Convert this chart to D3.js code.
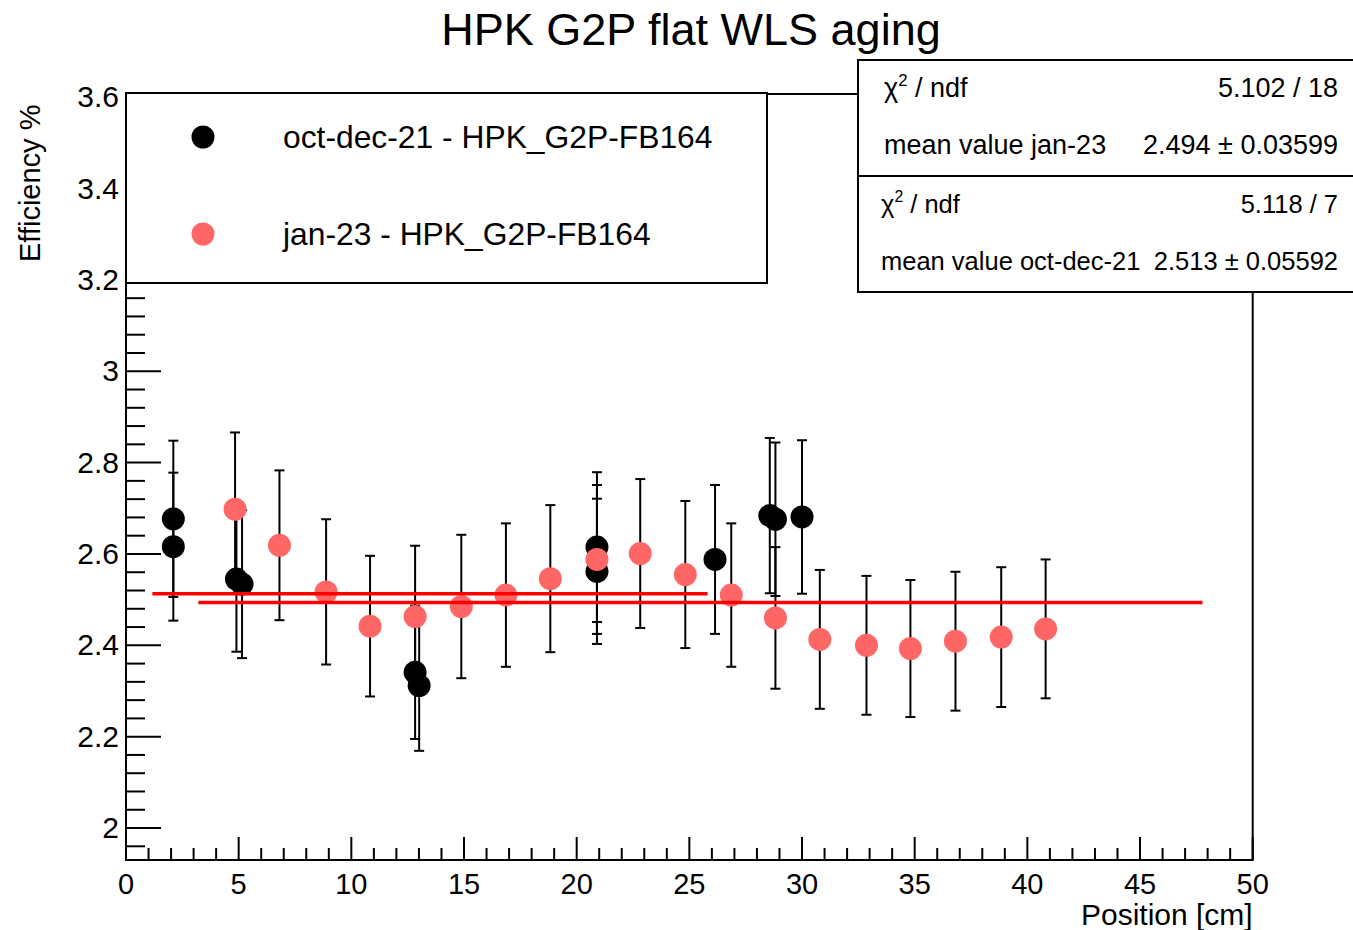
<!DOCTYPE html>
<html>
<head>
<meta charset="utf-8">
<script src="https://cdn.jsdelivr.net/npm/d3@7"></script>
<style>
  html, body { margin: 0; padding: 0; background: #fff; }
  svg { display: block; font-family: "Liberation Sans", Arial, Helvetica, sans-serif; }
</style>
</head>
<body>
<script>
// Efficiency vs position, two measurement campaigns with constant fits
const octX   = [2.10, 2.10, 4.90, 5.15, 12.83, 13.01, 20.90, 20.90, 26.14, 28.57, 28.82, 30.00];
const octY   = [2.677, 2.616, 2.545, 2.534, 2.341, 2.312, 2.615, 2.562, 2.588, 2.684, 2.676, 2.681];
const octErr = [0.171, 0.162, 0.159, 0.162, 0.146, 0.143, 0.164, 0.159, 0.163, 0.170, 0.168, 0.168];

const janX   = [4.84, 6.81, 8.88, 10.83, 12.83, 14.88, 16.86, 18.83, 20.90, 22.82, 24.82, 26.86, 28.82, 30.79, 32.86, 34.81, 36.81, 38.84, 40.81];
const janY   = [2.698, 2.619, 2.517, 2.442, 2.463, 2.485, 2.510, 2.546, 2.588, 2.601, 2.555, 2.510, 2.460, 2.413, 2.400, 2.393, 2.409, 2.418, 2.436];
const janErr = [0.168, 0.164, 0.159, 0.154, 0.155, 0.157, 0.157, 0.161, 0.163, 0.163, 0.161, 0.157, 0.155, 0.152, 0.152, 0.150, 0.152, 0.153, 0.152];

// constant fits: mean value and fit range
const octFit = { mean: 2.513, err: 0.05592, chi2: "5.118", ndf: 7, range: [1.17, 25.81] };
const janFit = { mean: 2.494, err: 0.03599, chi2: "5.102", ndf: 18, range: [3.21, 47.77] };

const xTicks = [0, 5, 10, 15, 20, 25, 30, 35, 40, 45, 50];
const yTicks = [2, 2.2, 2.4, 2.6, 2.8, 3, 3.2, 3.4, 3.6];

const legendLabels = ["oct-dec-21 - HPK_G2P-FB164", "jan-23 - HPK_G2P-FB164"];
const colors = { oct: "#000000", jan: "#ff6666", fit: "#ff0000" };

const W = 1353, H = 930;
const frame = { left: 126, right: 1252.7, top: 94, bottom: 860 };

const svg = d3.select("body").append("svg").attr("width", W).attr("height", H);
svg.append("rect").attr("width", W).attr("height", H).attr("fill", "#fff");

const x = d3.scaleLinear().domain([0, 50]).range([frame.left, frame.right]);
const y = d3.scaleLinear().domain([1.93, 3.607]).range([frame.bottom, frame.top]);

// frame
svg.append("rect")
  .attr("x", frame.left).attr("y", frame.top)
  .attr("width", frame.right - frame.left).attr("height", frame.bottom - frame.top)
  .attr("fill", "none").attr("stroke", "#000").attr("stroke-width", 2);

// x axis: major ticks every 5, minor every 1, drawn inward
const xAxis = svg.append("g").attr("stroke", "#000").attr("stroke-width", 2);
d3.range(0, 51, 1).forEach(v => {
  const major = v % 5 === 0;
  xAxis.append("line")
    .attr("x1", x(v)).attr("x2", x(v))
    .attr("y1", frame.bottom).attr("y2", frame.bottom - (major ? 23 : 12));
});
svg.append("g").selectAll("text").data(xTicks).join("text")
  .attr("x", d => x(d)).attr("y", 894)
  .attr("text-anchor", "middle").attr("font-size", 29)
  .text(d => d3.format("d")(d));

// y axis: major ticks every 0.2, minor every 0.04
const yAxis = svg.append("g").attr("stroke", "#000").attr("stroke-width", 2);
d3.range(0, 42).map(i => 1.96 + i * 0.04).filter(v => v <= 3.6001).forEach(v => {
  const major = Math.abs(Math.round(v * 5) - v * 5) < 1e-6;
  yAxis.append("line")
    .attr("x1", frame.left).attr("x2", frame.left + (major ? 35 : 19))
    .attr("y1", y(v)).attr("y2", y(v));
});
svg.append("g").selectAll("text").data(yTicks).join("text")
  .attr("x", 119).attr("y", d => y(d) + 10)
  .attr("text-anchor", "end").attr("font-size", 30)
  .text(d => d3.format("~g")(d));

// axis titles
svg.append("text").attr("x", frame.right).attr("y", 925)
  .attr("text-anchor", "end").attr("font-size", 30).text("Position [cm]");
svg.append("text")
  .attr("transform", `translate(40, 262) rotate(-90)`)
  .attr("text-anchor", "start").attr("font-size", 29).text("Efficiency %");

// title
svg.append("text").attr("x", 691).attr("y", 45)
  .attr("text-anchor", "middle").attr("font-size", 45).text("HPK G2P flat WLS aging");

// error bars + markers
function drawSeries(xs, ys, es, color) {
  const g = svg.append("g");
  xs.forEach((xv, i) => {
    const cx = x(xv), y1 = y(ys[i] + es[i]), y2 = y(ys[i] - es[i]);
    g.append("line").attr("x1", cx).attr("x2", cx).attr("y1", y1).attr("y2", y2)
      .attr("stroke", "#000").attr("stroke-width", 2);
    [y1, y2].forEach(yy => g.append("line")
      .attr("x1", cx - 5).attr("x2", cx + 5).attr("y1", yy).attr("y2", yy)
      .attr("stroke", "#000").attr("stroke-width", 2));
  });
  g.selectAll("circle").data(xs).join("circle")
    .attr("cx", d => x(d)).attr("cy", (d, i) => y(ys[i]))
    .attr("r", 11.5).attr("fill", color);
}
drawSeries(octX, octY, octErr, colors.oct);
drawSeries(janX, janY, janErr, colors.jan);

// fitted constants
[octFit, janFit].forEach(f => {
  svg.append("line")
    .attr("x1", x(f.range[0])).attr("x2", x(f.range[1]))
    .attr("y1", y(f.mean)).attr("y2", y(f.mean))
    .attr("stroke", colors.fit).attr("stroke-width", 3.5);
});

// legend
const leg = svg.append("g");
leg.append("rect").attr("x", 126).attr("y", 93).attr("width", 641).attr("height", 190)
  .attr("fill", "#fff").attr("stroke", "#000").attr("stroke-width", 2);
[colors.oct, colors.jan].forEach((c, i) => {
  const cy = 137 + i * 97;
  leg.append("circle").attr("cx", 203).attr("cy", cy).attr("r", 11.5).attr("fill", c);
  leg.append("text").attr("x", 283).attr("y", cy + 11).attr("font-size", 31.8).text(legendLabels[i]);
});

// fit statistics boxes
function statBox(top, h, fit, name, fs, lx) {
  const g = svg.append("g");
  g.append("rect").attr("x", 858).attr("y", top).attr("width", 510).attr("height", h)
    .attr("fill", "#fff").attr("stroke", "#000").attr("stroke-width", 2);
  const t1 = g.append("text").attr("x", lx).attr("y", top + 37).attr("font-size", fs);
  t1.append("tspan").text("\u03c7");
  t1.append("tspan").attr("font-size", fs * 0.62).attr("dy", -11).text("2");
  t1.append("tspan").attr("dy", 11).text(" / ndf");
  g.append("text").attr("x", 1338).attr("y", top + 37).attr("text-anchor", "end")
    .attr("font-size", fs).text(`${fit.chi2} / ${fit.ndf}`);
  g.append("text").attr("x", lx).attr("y", top + 94).attr("font-size", fs).text(`mean value ${name}`);
  g.append("text").attr("x", 1338).attr("y", top + 94).attr("text-anchor", "end")
    .attr("font-size", fs).text(`${d3.format(".3f")(fit.mean)} \u00b1 ${fit.err}`);
}
statBox(60, 116, janFit, "jan-23", 27, 884);
statBox(176, 116, octFit, "oct-dec-21", 25.5, 881);
</script>
</body>
</html>
